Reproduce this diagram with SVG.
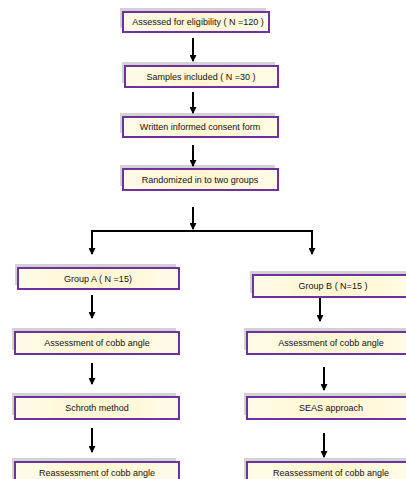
<svg xmlns="http://www.w3.org/2000/svg" width="406" height="479" viewBox="0 0 406 479">
<defs>
<linearGradient id="fill" x1="0" y1="0" x2="1" y2="0">
<stop offset="0" stop-color="#fffbe8"/>
<stop offset="0.5" stop-color="#fff6cf"/>
<stop offset="1" stop-color="#fffbe8"/>
</linearGradient>
<marker id="ah" markerWidth="7" markerHeight="7" refX="6" refY="3.5" orient="auto" markerUnits="userSpaceOnUse">
<path d="M0,0 L7,3.5 L0,7 Z" fill="#000"/>
</marker>
<style>
.sh{fill:#d2d2d2}
.bx{fill:url(#fill);stroke:#7030a0;stroke-width:2}
.t{font-family:"Liberation Sans",Arial,sans-serif;font-size:9px;fill:#111;text-anchor:middle;dominant-baseline:central}
.c{stroke:#000;stroke-width:2;fill:none}
.a{stroke:#000;stroke-width:2;fill:none;marker-end:url(#ah)}
</style>
</defs>
<rect width="406" height="479" fill="#fff"/>
<g id="n1"><rect class="sh" x="120" y="8" width="146" height="20"/><rect class="bx" x="123" y="12" width="146" height="20"/><text class="t" x="198" y="22">Assessed for eligibility ( N =120 )</text></g>
<g id="n2"><rect class="sh" x="122" y="62" width="153" height="21"/><rect class="bx" x="125" y="66" width="153" height="21"/><text class="t" x="201" y="76.5">Samples included ( N =30 )</text></g>
<g id="n3"><rect class="sh" x="120" y="113" width="155" height="20"/><rect class="bx" x="123" y="117" width="155" height="20"/><text class="t" x="200" y="127">Written informed consent form</text></g>
<g id="n4"><rect class="sh" x="120" y="165" width="155" height="21"/><rect class="bx" x="123" y="169" width="155" height="21"/><text class="t" x="200" y="179.5">Randomized in to two groups</text></g>
<g id="nA"><rect class="sh" x="15" y="264" width="161" height="21"/><rect class="bx" x="18" y="268" width="161" height="21"/><text class="t" x="98" y="278.5">Group A ( N =15)</text></g>
<g id="nB"><rect class="sh" x="250" y="271" width="168" height="22"/><rect class="bx" x="253" y="275" width="168" height="22"/><text class="t" x="333" y="286">Group B ( N=15 )</text></g>
<g id="nA1"><rect class="sh" x="12" y="328" width="164" height="22"/><rect class="bx" x="15" y="332" width="164" height="22"/><text class="t" x="97" y="343">Assessment of cobb angle</text></g>
<g id="nA2"><rect class="sh" x="12" y="393" width="164" height="22"/><rect class="bx" x="15" y="397" width="164" height="22"/><text class="t" x="97" y="408">Schroth method</text></g>
<g id="nA3"><rect class="sh" x="12" y="458" width="164" height="24"/><rect class="bx" x="15" y="462" width="164" height="24"/><text class="t" x="97" y="473">Reassessment of cobb angle</text></g>
<g id="nB1"><rect class="sh" x="244" y="328" width="170" height="22"/><rect class="bx" x="247" y="332" width="170" height="22"/><text class="t" x="331" y="343">Assessment of cobb angle</text></g>
<g id="nB2"><rect class="sh" x="244" y="393" width="170" height="22"/><rect class="bx" x="247" y="397" width="170" height="22"/><text class="t" x="331" y="408">SEAS approach</text></g>
<g id="nB3"><rect class="sh" x="244" y="458" width="170" height="24"/><rect class="bx" x="247" y="462" width="170" height="24"/><text class="t" x="331" y="473">Reassessment of cobb angle</text></g>
<g id="connectors">
<line class="a" x1="193" y1="38" x2="193" y2="61"/>
<line class="a" x1="193" y1="92" x2="193" y2="113"/>
<line class="a" x1="193" y1="145" x2="193" y2="166"/>
<line class="a" x1="193" y1="207" x2="193" y2="229"/>
<polyline class="c" points="92,236 92,231 312,231 312,236"/>
<line class="a" x1="92" y1="235" x2="92" y2="254"/>
<line class="a" x1="312" y1="235" x2="312" y2="254"/>
<line class="a" x1="92" y1="295" x2="92" y2="318"/>
<line class="a" x1="92" y1="363" x2="92" y2="384"/>
<line class="a" x1="92" y1="428" x2="92" y2="452"/>
<line class="a" x1="320" y1="298" x2="320" y2="321"/>
<line class="a" x1="324" y1="367" x2="324" y2="390"/>
<line class="a" x1="324" y1="433" x2="324" y2="457"/>
</g>
</svg>
